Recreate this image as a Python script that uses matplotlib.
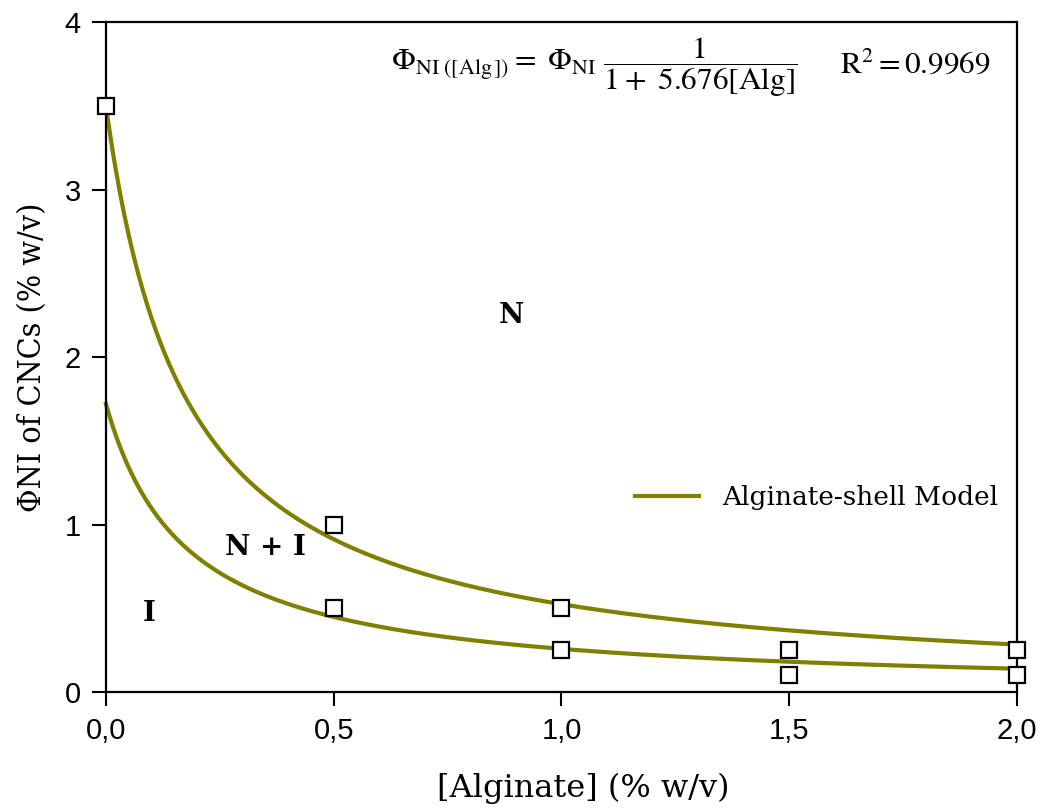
import numpy as np
import matplotlib
matplotlib.use("Agg")
import matplotlib.pyplot as plt
from matplotlib.lines import Line2D

# measured phase-boundary points
alg_points = [0.0, 0.5, 0.5, 1.0, 1.0, 1.5, 1.5, 2.0, 2.0]
phi_points = [3.5, 1.0, 0.5, 0.5, 0.25, 0.25, 0.1, 0.25, 0.1]

# alginate-shell model: phi = phi0 / (1 + k [Alg])
k_model = 5.676
phi0_upper = 3.5
phi0_lower = 1.72

x_ticks = [0.0, 0.5, 1.0, 1.5, 2.0]
x_tick_labels = ["0,0", "0,5", "1,0", "1,5", "2,0"]
y_ticks = [0, 1, 2, 3, 4]

OLIVE = "#808000"
SERIF = "DejaVu Serif"

plt.rcParams["mathtext.fontset"] = "stix"

fig = plt.figure(figsize=(10.43, 8.09), dpi=100)
ax = fig.add_axes([0.1016, 0.1446, 0.8735, 0.8282])

alg_fine = np.linspace(0.0, 2.0, 400)
for phi0 in (phi0_upper, phi0_lower):
    ax.plot(alg_fine, phi0 / (1 + k_model * alg_fine),
            color=OLIVE, linewidth=3.0, zorder=2, clip_on=False)

ax.plot(alg_points, phi_points, linestyle="none", marker="s",
        markersize=12, markerfacecolor="white", markeredgecolor="black",
        markeredgewidth=1.6, zorder=3, clip_on=False)

ax.set_xlim(0, 2.0)
ax.set_ylim(0, 4)
ax.set_xticks(x_ticks)
ax.set_xticklabels(x_tick_labels)
ax.set_yticks(y_ticks)
ax.tick_params(direction="out", length=10, width=1.5, labelsize=21, pad=8)
for lbl in ax.get_xticklabels() + ax.get_yticklabels():
    lbl.set_fontfamily("Liberation Sans")
for sp in ax.spines.values():
    sp.set_linewidth(1.6)

ax.set_xlabel("[Alginate] (% w/v)", fontsize=23, family=SERIF, labelpad=20)
ax.xaxis.label.set_x(0.524)
ax.set_ylabel("ΦNI of CNCs (% w/v)", fontsize=23, family=SERIF,
              fontstretch="condensed", labelpad=12)

# region labels
label_kw = dict(fontsize=20, family=SERIF, fontweight="bold",
                ha="center", va="center")
ax.text(0.89, 2.25, "N", **label_kw)
ax.text(0.35, 0.86, "N + I", **label_kw)
ax.text(0.095, 0.47, "I", **label_kw)

# model equation
ax.text(0.313, 0.933,
        r"$\Phi_{\mathrm{NI\ ([Alg\,])}}=\ \Phi_{\mathrm{NI}}\ \dfrac{1}{1+\ 5.676[\mathrm{Alg}]}$",
        transform=ax.transAxes, fontsize=22.5, ha="left", va="center")
ax.text(0.806, 0.938, r"$\mathrm{R}^2 = 0.9969$",
        transform=ax.transAxes, fontsize=22.5, ha="left", va="center")

handle = Line2D([0], [0], color=OLIVE, linewidth=3.0)
ax.legend([handle], ["Alginate-shell Model"], loc="center left",
          bbox_to_anchor=(0.555, 0.29), frameon=False,
          prop={"family": SERIF, "size": 19},
          handlelength=2.4, handletextpad=0.9)

fig.savefig("out.png", dpi=100)
